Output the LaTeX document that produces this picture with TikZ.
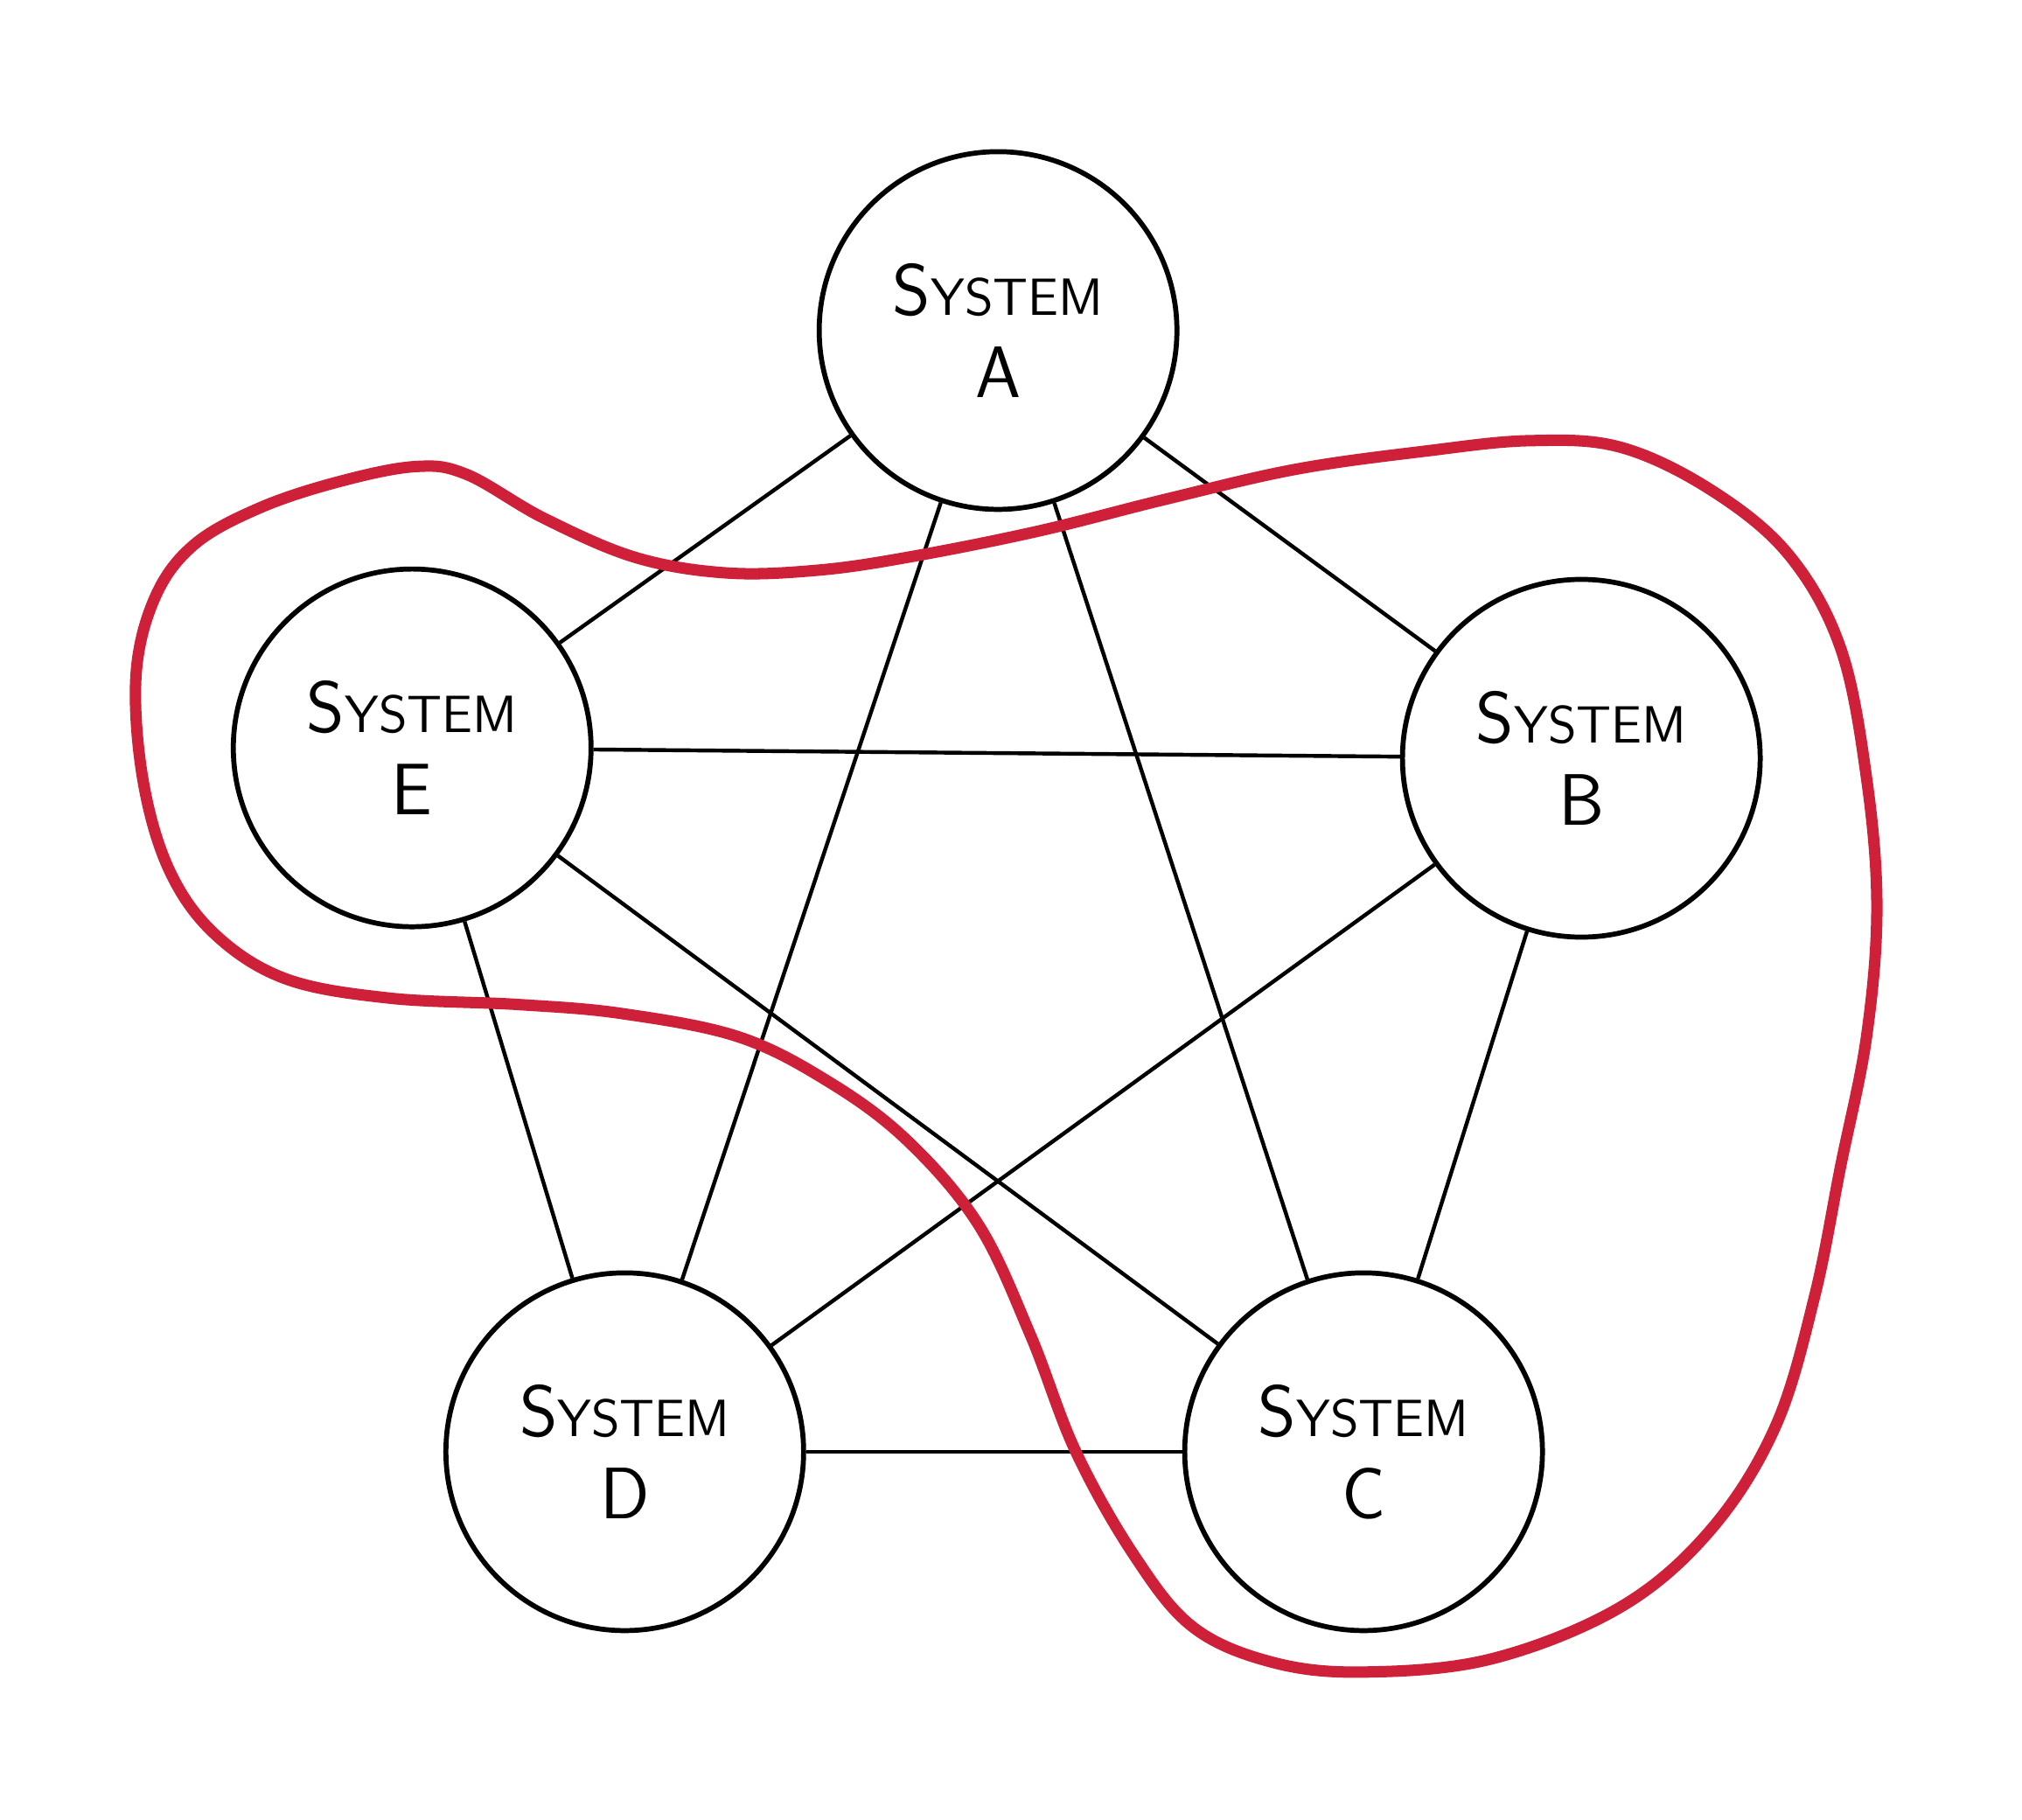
\documentclass[tikz,border=0pt]{standalone}
\usepackage{tikz}
\definecolor{marker}{RGB}{206,32,57}
\newcommand{\sysname}[1]{S{\fontsize{11.5}{18}\selectfont YSTEM}\\#1}
\tikzset{
    sys/.style={draw, circle, line width=1.1pt, minimum size=2.76cm, inner sep=0pt, align=center,
        font=\sffamily\fontsize{16}{18}\selectfont},
    link/.style={line width=0.85pt},
    loop/.style={draw=marker, line width=2.5pt, line join=round}
}
\begin{document}
\begin{tikzpicture}
            \useasboundingbox[fill=white] (0, 0) rectangle (15.6, -14.04);
            \node[sys] (A) at (7.70, -2.55) {\sysname{A}};
            \node[sys] (B) at (12.20, -5.85) {\sysname{B}};
            \node[sys] (C) at (10.52, -11.20) {\sysname{C}};
            \node[sys] (D) at (4.82, -11.20) {\sysname{D}};
            \node[sys] (E) at (3.18, -5.77) {\sysname{E}};
            \foreach \a/\b in {A/B, A/C, A/D, A/E, B/C, B/D, B/E, C/D, C/E, D/E} {
                \draw[link] (\a) -- (\b);
            }
            \draw[loop] plot[smooth cycle, tension=0.6] coordinates {
                (3.60,-3.66) (4.20,-4.00) (4.90,-4.30) (5.60,-4.42) (6.30,-4.40)
                (7.00,-4.30) (8.00,-4.10) (9.00,-3.85) (10.00,-3.62) (11.00,-3.48)
                (11.80,-3.40) (12.50,-3.45) (13.20,-3.78) (13.80,-4.28) (14.20,-5.00)
                (14.40,-6.00) (14.48,-7.00) (14.40,-8.00) (14.20,-9.00) (14.00,-10.00)
                (13.70,-11.00) (13.20,-11.80) (12.50,-12.40) (11.50,-12.80) (10.50,-12.90)
                (9.80,-12.82) (9.20,-12.55) (8.75,-12.00) (8.30,-11.20) (7.95,-10.30)
                (7.55,-9.45) (7.00,-8.80) (6.40,-8.35) (5.70,-8.00) (4.80,-7.82)
                (4.00,-7.75) (3.00,-7.70) (2.20,-7.55) (1.65,-7.20) (1.30,-6.70)
                (1.10,-6.00) (1.05,-5.20) (1.20,-4.60) (1.50,-4.20) (2.00,-3.92)
                (2.60,-3.72) (3.20,-3.60)
            };
        \end{tikzpicture}
\end{document}
